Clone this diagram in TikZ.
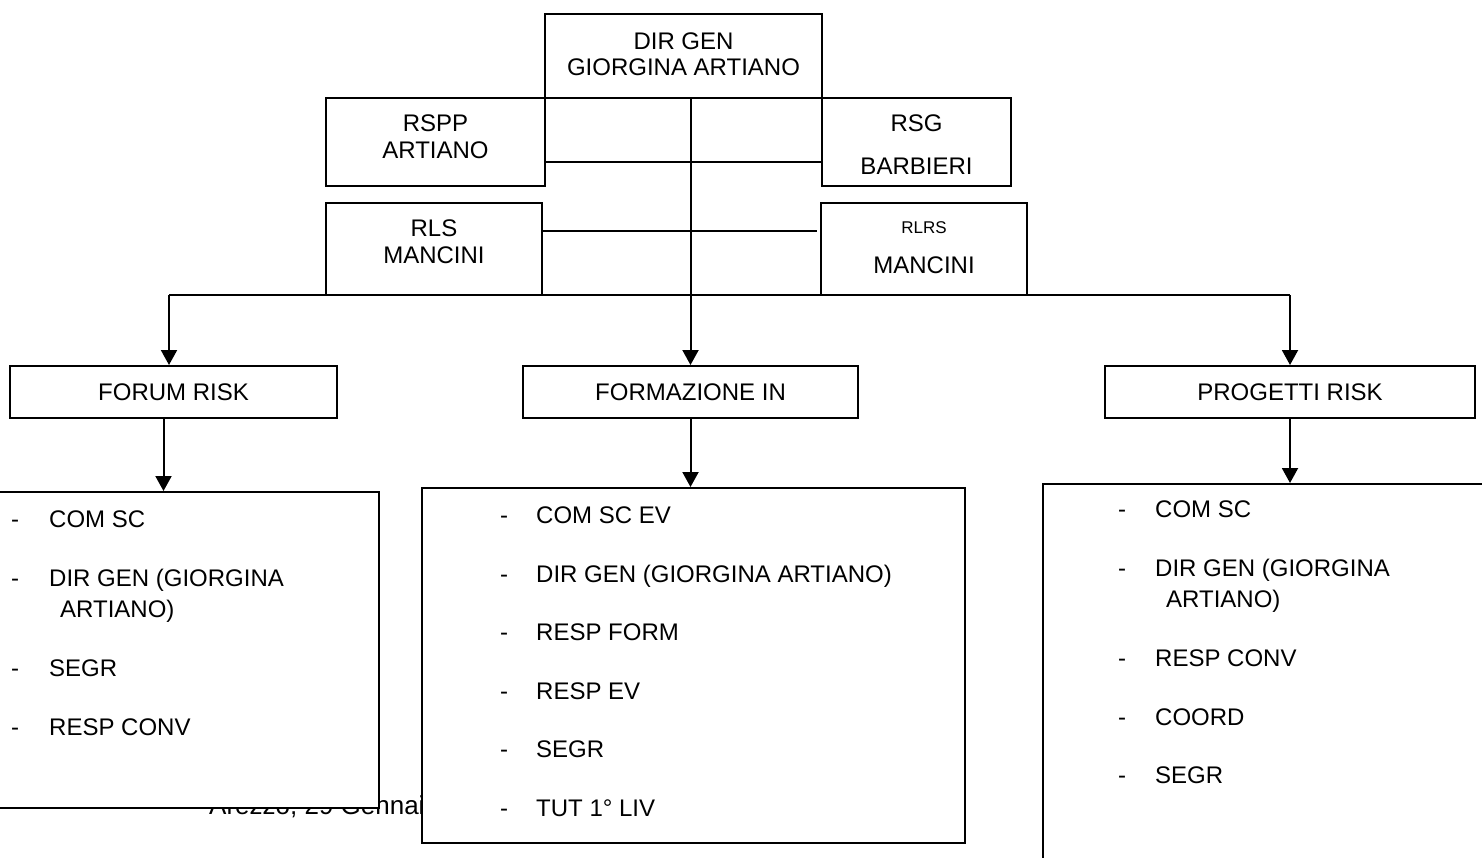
\documentclass[tikz,border=0pt]{standalone}
\usepackage{fontspec}
\setmainfont{Liberation Sans}
\usetikzlibrary{arrows.meta,positioning}

\tikzset{
  unit/.style={draw, line width=2pt, fill=white, inner sep=0pt},
  voce/.style={anchor=base west, inner sep=0pt},
  link/.style={line width=2pt},
  freccia/.style={line width=2pt, -{Triangle[width=16pt,length=15pt]}},
}

\begin{document}
\begin{tikzpicture}[x=1pt,y=-1pt, font=\fontsize{24}{28}\selectfont]
    \useasboundingbox (0,0) rectangle (1482,857);
    \clip (0,0) rectangle (1482,857);
    % riga in fondo, coperta in parte dai riquadri
    \node[voce, font=\fontsize{26}{30}\selectfont] (luogo) at (209,814) {Arezzo, 29 Gennaio};

    % vertice
    \node[unit, minimum width=277pt, minimum height=84pt] (dirgen) at (683.5,56) {};
    \node (dirgenA) at (683.5,41) {DIR GEN};
    \node (dirgenB) at (683.5,67.5) {GIORGINA ARTIANO};

    \node[unit, minimum width=219pt, minimum height=88pt] (rspp) at (435.5,142) {};
    \node (rsppA) at (435.5,123) {RSPP};
    \node (rsppB) at (435.5,150) {ARTIANO};

    \node[unit, minimum width=189pt, minimum height=88pt] (rsg) at (916.5,142) {};
    \node (rsgA) at (916.5,123) {RSG};
    \node (rsgB) at (916.5,166) {BARBIERI};

    \node[unit, minimum width=216pt, minimum height=92pt] (rls) at (434,249) {};
    \node (rlsA) at (434,228) {RLS};
    \node (rlsB) at (434,255) {MANCINI};

    \node[unit, minimum width=206pt, minimum height=92pt] (rlrs) at (924,249) {};
    \node[font=\fontsize{17}{20}\selectfont] (rlrsA) at (924,228) {RLRS};
    \node (rlrsB) at (924,265) {MANCINI};

    \draw[link] ([yshift=-20pt]rspp.east) -- ([yshift=-20pt]rsg.west);
    \draw[link] ([yshift=18pt]rls.east) -- ([xshift=-3pt,yshift=18pt]rlrs.west);

    % aree
    \node[unit, minimum width=327pt, minimum height=52pt] (forum) at (173.5,392) {FORUM RISK};
    \node[unit, minimum width=335pt, minimum height=52pt] (formaz) at (690.5,392) {FORMAZIONE IN};
    \node[unit, minimum width=370pt, minimum height=52pt] (progetti) at (1290,392) {PROGETTI RISK};

    \coordinate (ramo) at (169,295);
    \draw[link] (ramo) -- (progetti.north |- ramo);
    \draw[freccia] (ramo) -- (ramo |- forum.north);
    \draw[freccia] (formaz.north |- dirgen.south) -- (formaz.north);
    \draw[freccia] (progetti.north |- ramo) -- (progetti.north);

    % componenti
    \node[unit, minimum width=389pt, minimum height=316pt] (listaF) at (184.5,650) {};
    \node[unit, minimum width=543pt, minimum height=355pt] (listaI) at (693.5,665.5) {};
    \node[unit, minimum width=457pt, minimum height=396pt] (listaP) at (1271.5,682) {};

    \draw[freccia] ([xshift=-10pt]forum.south) -- ([xshift=-10pt]forum.south |- listaF.north);
    \draw[freccia] (formaz.south) -- (formaz.south |- listaI.north);
    \draw[freccia] (progetti.south) -- (progetti.south |- listaP.north);

    \foreach \y/\testo [count=\k] in {527/COM SC, 586/DIR GEN (GIORGINA, 676/SEGR, 735/RESP CONV}
    {
      \node[voce] (fd\k) at (11,\y) {-};
      \node[voce] (ft\k) at (49,\y) {\testo};
    }
    \node[voce] (ft5) at (60,617) {ARTIANO)};

    \foreach \y/\testo [count=\k] in {523/COM SC EV, 582/DIR GEN (GIORGINA ARTIANO), 640/RESP FORM, 699/RESP EV, 757/SEGR, 816/TUT 1° LIV}
    {
      \node[voce] (id\k) at (500,\y) {-};
      \node[voce] (it\k) at (536,\y) {\testo};
    }

    \foreach \y/\testo [count=\k] in {517/COM SC, 576/DIR GEN (GIORGINA, 666/RESP CONV, 725/COORD, 783/SEGR}
    {
      \node[voce] (pd\k) at (1118,\y) {-};
      \node[voce] (pt\k) at (1155,\y) {\testo};
    }
    \node[voce] (pt6) at (1166,607) {ARTIANO)};
\end{tikzpicture}
\end{document}
